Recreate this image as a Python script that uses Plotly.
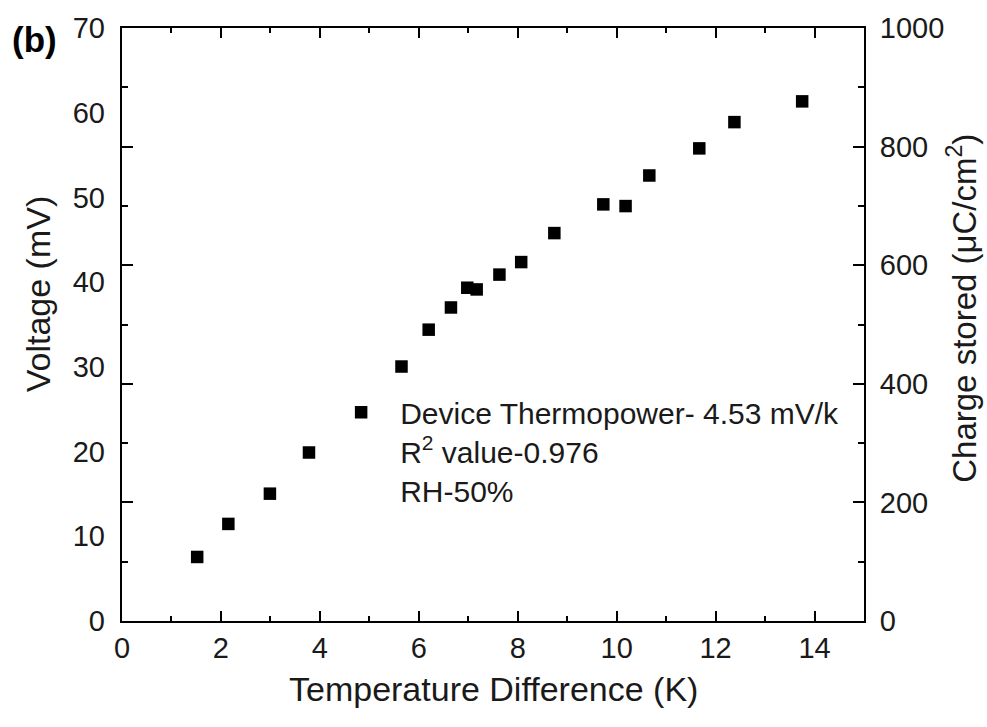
import plotly.graph_objects as go

temp_diff = [1.52, 2.15, 2.99, 3.78, 5.65, 6.20, 6.65, 6.98, 7.17, 7.63, 8.07, 8.74,
             9.73, 10.18, 10.66, 11.67, 12.38, 13.75]
voltage = [7.56, 11.46, 15.03, 19.89, 30.04, 34.39, 37.01, 39.34, 39.14, 40.89, 42.37,
           45.79, 49.18, 48.98, 52.59, 55.79, 58.89, 61.34]

x_ticks = [0, 2, 4, 6, 8, 10, 12, 14]
v_ticks = [0, 10, 20, 30, 40, 50, 60, 70]
q_ticks = [0, 200, 400, 600, 800, 1000]

FONT = "Liberation Sans, Arial, Helvetica, sans-serif"
TXT = "#1a1a1a"

fig = go.Figure()
fig.add_trace(go.Scatter(
    x=temp_diff, y=voltage, mode="markers",
    marker=dict(symbol="square", size=12.5, color="black", line=dict(width=0)),
    name="Device Thermopower- 4.53 mV/k<br>R<sup>2</sup> value-0.976<br>RH-50%",
    showlegend=True,
))
# invisible trace to activate right axis
fig.add_trace(go.Scatter(x=[None], y=[None], yaxis="y2", showlegend=False, hoverinfo="skip"))

fig.update_layout(
    width=987, height=727,
    margin=dict(l=122, r=123, t=21, b=106),
    paper_bgcolor="white", plot_bgcolor="white",
    font=dict(family=FONT, color=TXT, size=28),
    showlegend=True,
    legend=dict(x=(322 - 122) / 741.5, y=(621.5 - 384) / 600, xanchor="left", yanchor="top",
                bgcolor="rgba(0,0,0,0)", borderwidth=0, valign="top", itemwidth=68,
                font=dict(size=30, family=FONT, color=TXT), itemsizing="trace"),
    xaxis=dict(range=[0, 15], tickvals=x_ticks, ticks="inside", ticklen=10, tickwidth=1.5,
               tickcolor="black", showline=True, linecolor="black", linewidth=2,
               mirror="ticks", showgrid=False, zeroline=False,
               minor=dict(dtick=1, ticks="inside", ticklen=5, tickwidth=1.5, tickcolor="black"),
               tickfont=dict(size=29, color=TXT), ticklabelstandoff=0),
    yaxis=dict(range=[0, 70], tickvals=v_ticks, ticks="", showline=False, showgrid=False,
               zeroline=False, tickfont=dict(size=29, color=TXT), ticklabelstandoff=16),
    yaxis2=dict(range=[0, 1000], tickvals=q_ticks, overlaying="y", side="right",
                ticks="inside", ticklen=11, tickwidth=1.5, tickcolor="black",
                showline=True, linecolor="black", linewidth=2, mirror="ticks",
                showgrid=False, zeroline=False,
                minor=dict(dtick=100, ticks="inside", ticklen=6, tickwidth=1.5, tickcolor="black"),
                tickfont=dict(size=29, color=TXT), ticklabelstandoff=8),
    annotations=[
        dict(text="Temperature Difference (K)", x=0.5, y=(621.5 - 690) / 600,
             xref="paper", yref="paper", showarrow=False,
             font=dict(size=34, family=FONT, color=TXT), xanchor="center", yanchor="middle"),
        dict(text="Voltage (mV)", x=(38 - 122) / 741.5, y=(621.5 - 290) / 600,
             xref="paper", yref="paper", showarrow=False, textangle=-90,
             font=dict(size=34, family=FONT, color=TXT), xanchor="center", yanchor="middle"),
        dict(text="Charge stored (\u03bcC/cm<sup>2</sup>)", x=(962 - 122) / 741.5, y=(621.5 - 305) / 600,
             xref="paper", yref="paper", showarrow=False, textangle=-90,
             font=dict(size=33, family=FONT, color=TXT), xanchor="center", yanchor="middle"),
        dict(text="<b>(b)</b>", x=(35 - 122) / 741.5, y=(621.5 - 33) / 600,
             xref="paper", yref="paper", showarrow=False,
             font=dict(size=35, family=FONT, color="black"), xanchor="center", yanchor="middle"),
    ],
)

fig.write_html("out.html")
